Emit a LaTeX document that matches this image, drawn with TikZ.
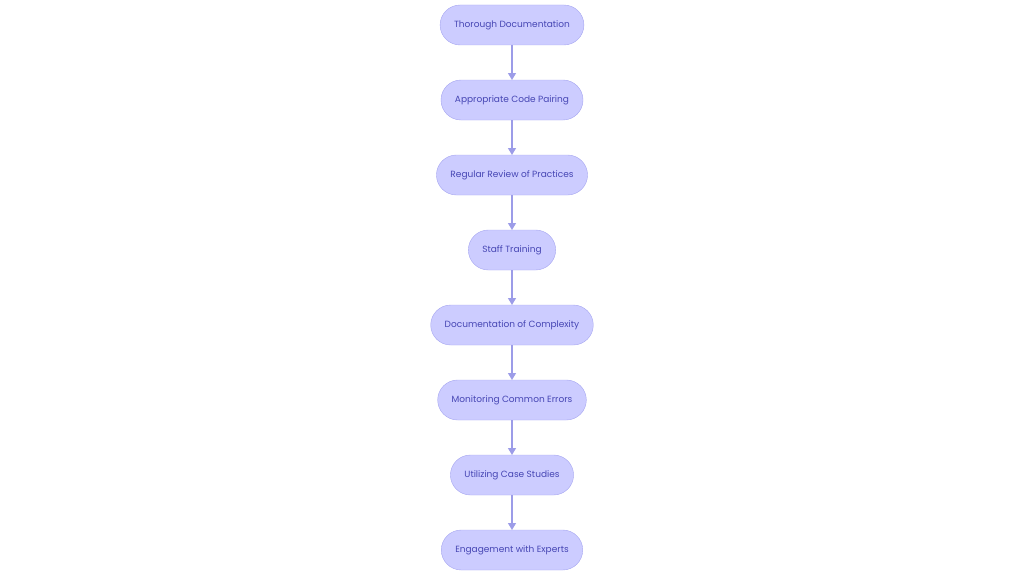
\documentclass[tikz,border=0pt]{standalone}
\usepackage{fontspec}
\setmainfont{Poppins}
\usetikzlibrary{positioning,arrows.meta}
\definecolor{boxfill}{HTML}{CCCCFF}
\definecolor{boxline}{HTML}{A5A5F0}
\definecolor{boxtext}{HTML}{4646B4}
\definecolor{linkcol}{HTML}{9C9CE8}
\begin{document}
\begin{tikzpicture}
[x=1pt,y=1pt,
 stepbox/.style={rectangle,rounded corners=20pt,draw=boxline,fill=boxfill,text=boxtext,
   font=\fontsize{9}{10}\selectfont,inner xsep=14pt,inner ysep=0pt,outer sep=0pt,
   text height=7pt,text depth=2pt,minimum height=40pt},
 link/.style={draw=linkcol,line width=1.2pt,-{Triangle[length=7pt,width=8pt]}},
 node distance=35pt]
\useasboundingbox (0,0) rectangle (1024,-578);
\node[stepbox] at (512,-25) (n1) {Thorough Documentation};
\node[stepbox,below=of n1] (n2) {Appropriate Code Pairing};
\node[stepbox,below=of n2] (n3) {Regular Review of Practices};
\node[stepbox,below=of n3] (n4) {Staff Training};
\node[stepbox,below=of n4] (n5) {Documentation of Complexity};
\node[stepbox,below=of n5] (n6) {Monitoring Common Errors};
\node[stepbox,below=of n6] (n7) {Utilizing Case Studies};
\node[stepbox,below=of n7] (n8) {Engagement with Experts};
\draw[link] (n1) -- (n2);
\draw[link] (n2) -- (n3);
\draw[link] (n3) -- (n4);
\draw[link] (n4) -- (n5);
\draw[link] (n5) -- (n6);
\draw[link] (n6) -- (n7);
\draw[link] (n7) -- (n8);
\end{tikzpicture}
\end{document}
